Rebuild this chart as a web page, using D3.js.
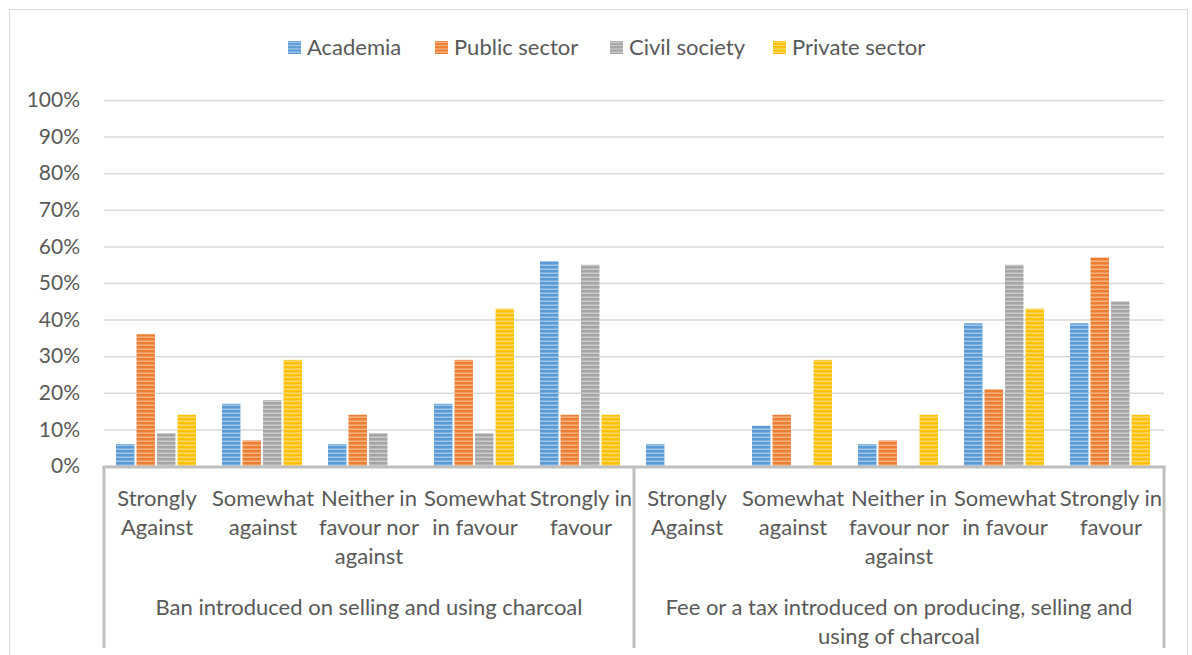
<!DOCTYPE html>
<html>
<head>
<meta charset="utf-8">
<script src="https://cdn.jsdelivr.net/npm/d3@7/dist/d3.min.js"></script>
<style>
  html, body { margin: 0; padding: 0; background: #fff; }
  svg { display: block; font-family: Lato, "Open Sans", sans-serif; }
</style>
</head>
<body>
<svg id="chart" width="1192" height="655"></svg>
<script>
// ---- data ----
const groups = ["Ban introduced on selling and using charcoal",
                "Fee or a tax introduced on producing, selling and\nusing of charcoal"];
const responses = ["Strongly\nAgainst", "Somewhat\nagainst", "Neither in\nfavour nor\nagainst",
                   "Somewhat\nin favour", "Strongly in\nfavour"];
const seriesNames = ["Academia", "Public sector", "Civil society", "Private sector"];
const seriesColors = ["#5B9BD5", "#ED7D31", "#A5A5A5", "#FFC000"];
// values per series (percent), 10 categories: 5 for Ban, 5 for Fee
const academia     = [6, 17, 6, 17, 56,   6, 11, 6, 39, 39];
const publicSector = [36, 7, 14, 29, 14,  0, 14, 7, 21, 57];
const civilSociety = [9, 18, 9, 9, 55,    0, 0, 0, 55, 45];
const privateSector= [14, 29, 0, 43, 14,  0, 29, 14, 43, 14];
const yTicks = [0, 10, 20, 30, 40, 50, 60, 70, 80, 90, 100];

const seriesValues = [academia, publicSector, civilSociety, privateSector];
const categories = [];
groups.forEach((g, gi) => responses.forEach((r, ri) => categories.push({key: gi + "-" + ri, label: r, group: gi})));

const svg = d3.select("#chart");
const textColor = "#595959";
const fontSize = 22;
const tickFontSize = 21;

// outer border
svg.append("rect").attr("x", 9.5).attr("y", 9.5).attr("width", 1178).attr("height", 700)
  .attr("fill", "none").attr("stroke", "#d9d9d9").attr("stroke-width", 1);

const plotLeft = 104, plotRight = 1164, plotTop = 100, plotBottom = 466;

const x0 = d3.scaleBand().domain(categories.map(d => d.key)).range([plotLeft, plotRight]).padding(0);
const x1 = d3.scaleBand().domain(seriesNames).range([12, 92]).paddingInner(0.1).paddingOuter(0);
const y = d3.scaleLinear().domain([0, 100]).range([plotBottom, plotTop]);

// patterns
const defs = svg.append("defs");
seriesNames.forEach((s, i) => {
  const p = defs.append("pattern").attr("id", "pat" + i).attr("patternUnits", "userSpaceOnUse")
    .attr("width", 8).attr("height", 4).attr("y", plotBottom);
  p.append("rect").attr("width", 8).attr("height", 4).attr("fill", seriesColors[i]);
  p.append("rect").attr("y", 2.5).attr("width", 8).attr("height", 1.5).attr("fill", "#fff").attr("opacity", 0.42);
});

// gridlines
const yAxis = d3.axisLeft(y).tickValues(yTicks).tickSize(-(plotRight - plotLeft)).tickFormat(d => d + "%").tickPadding(24);
const gy = svg.append("g").attr("transform", `translate(${plotLeft},0)`).call(yAxis);
gy.select(".domain").remove();
gy.selectAll(".tick line").attr("stroke", "#d9d9d9").attr("stroke-width", 1.5);
gy.selectAll(".tick text").attr("fill", textColor).style("font-size", tickFontSize + "px")
  .style("font-family", "Lato, sans-serif");

// bars
const cg = svg.append("g").selectAll("g").data(categories).join("g")
  .attr("transform", d => `translate(${x0(d.key)},0)`);
cg.selectAll("rect").data((d, ci) => seriesNames.map((s, si) => ({s, si, v: seriesValues[si][ci]})))
  .join("rect")
  .attr("x", d => x1(d.s))
  .attr("width", x1.bandwidth())
  .attr("y", d => y(d.v))
  .attr("height", d => y(0) - y(d.v))
  .attr("fill", d => `url(#pat${d.si})`);

// category axis
const axisColor = "#bfbfbf";
const axisBottomY = 648;
svg.append("line").attr("x1", plotLeft - 1.5).attr("x2", plotRight + 1.5).attr("y1", plotBottom + 1).attr("y2", plotBottom + 1)
  .attr("stroke", axisColor).attr("stroke-width", 3);
// group separators
const groupBounds = [plotLeft, x0(categories[5].key), plotRight];
svg.selectAll("line.sep").data(groupBounds).join("line").attr("class", "sep")
  .attr("x1", d => d).attr("x2", d => d).attr("y1", plotBottom).attr("y2", axisBottomY)
  .attr("stroke", axisColor).attr("stroke-width", 3);

const lineH = 29;
// category labels
svg.append("g").selectAll("text").data(categories).join("text")
  .attr("x", d => x0(d.key) + x0.bandwidth() / 2)
  .attr("y", 506)
  .attr("text-anchor", "middle").attr("fill", textColor).style("font-size", fontSize + "px")
  .each(function(d) {
    const t = d3.select(this);
    d.label.split("\n").forEach((ln, i) => t.append("tspan").attr("x", x0(d.key) + x0.bandwidth() / 2).attr("dy", i === 0 ? 0 : lineH).text(ln));
  });

// group labels
svg.append("g").selectAll("text").data(groups).join("text")
  .attr("x", (d, i) => (groupBounds[i] + groupBounds[i + 1]) / 2)
  .attr("y", 615)
  .attr("text-anchor", "middle").attr("fill", textColor).style("font-size", fontSize + "px")
  .each(function(d, gi) {
    const t = d3.select(this);
    const cx = (groupBounds[gi] + groupBounds[gi + 1]) / 2;
    d.split("\n").forEach((ln, i) => t.append("tspan").attr("x", cx).attr("dy", i === 0 ? 0 : lineH).text(ln));
  });

// legend
const legendX = [288, 435, 610, 773];
seriesNames.forEach((s, i) => {
  const p = defs.append("pattern").attr("id", "lpat" + i).attr("patternUnits", "userSpaceOnUse")
    .attr("width", 8).attr("height", 3.25).attr("y", 41);
  p.append("rect").attr("width", 8).attr("height", 3.25).attr("fill", seriesColors[i]);
  p.append("rect").attr("y", 2).attr("width", 8).attr("height", 1.25).attr("fill", "#fff").attr("opacity", 0.42);
});
const lg = svg.append("g").selectAll("g").data(seriesNames).join("g")
  .attr("transform", (d, i) => `translate(${legendX[i]},41)`);
lg.append("rect").attr("width", 13).attr("height", 13).attr("fill", (d, i) => `url(#lpat${i})`);
lg.append("text").attr("x", 19).attr("y", 14).attr("fill", textColor).style("font-size", fontSize + "px").text(d => d);
</script>
</body>
</html>
